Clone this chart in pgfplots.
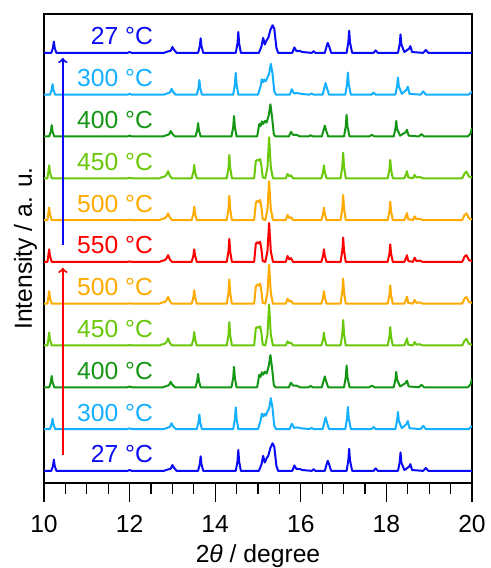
\documentclass[border=0pt]{standalone}
\usepackage{fontspec}
\setmainfont{Liberation Sans}
\usepackage{pgfplots}
\usepackage{pgfplotstable}
\pgfplotsset{compat=1.18}

\definecolor{cblue}{RGB}{10,10,245}
\definecolor{clblue}{RGB}{20,175,255}
\definecolor{cgreen}{RGB}{20,150,20}
\definecolor{clgreen}{RGB}{105,200,10}
\definecolor{corange}{RGB}{255,170,0}
\definecolor{cred}{RGB}{255,0,0}

% patterns, intensity in units of the stacking offset
\pgfplotstableread[row sep=\\]{x y\\
10 0\\ 10.17 0\\ 10.21 0.12\\ 10.23 0.27\\ 10.25 0.12\\ 10.29 0\\ 11.95 0\\ 12.0 0.02\\ 12.05 0\\
12.8 0\\ 12.88 0.03\\ 12.96 0.05\\ 13.0 0.14\\ 13.04 0.07\\ 13.1 0\\ 13.6 0\\ 13.64 0.16\\ 13.66 0.35\\ 13.68 0.16\\ 13.72 0\\
14.48 0\\ 14.52 0.22\\ 14.54 0.5\\ 14.56 0.22\\ 14.6 0\\ 15.02 0\\ 15.08 0.15\\ 15.12 0.36\\ 15.16 0.2\\ 15.2 0.3\\
15.24 0.36\\ 15.29 0.55\\ 15.34 0.66\\ 15.38 0.58\\ 15.43 0.12\\ 15.47 0\\ 15.8 0\\ 15.85 0.13\\ 15.9 0.04\\ 15.96 0.05\\
16.04 0.02\\ 16.26 0\\ 16.3 0.04\\ 16.34 0\\ 16.56 0\\ 16.61 0.18\\ 16.63 0.24\\ 16.66 0.16\\ 16.71 0\\ 17.07 0\\
17.11 0.25\\ 17.13 0.53\\ 17.15 0.25\\ 17.2 0\\ 17.7 0\\ 17.75 0.06\\ 17.8 0\\ 18.27 0\\ 18.31 0.2\\ 18.33 0.44\\
18.35 0.2\\ 18.42 0.02\\ 18.53 0.1\\ 18.56 0.16\\ 18.6 0.02\\ 18.86 0\\ 18.92 0.07\\ 18.98 0\\ 20 0\\
}\tA

\pgfplotstableread[row sep=\\]{x y\\
10 0\\ 10.14 0\\ 10.18 0.12\\ 10.2 0.25\\ 10.22 0.12\\ 10.26 0\\ 11.95 0\\ 12.0 0.02\\ 12.05 0\\
12.8 0\\ 12.88 0.03\\ 12.94 0.05\\ 12.98 0.14\\ 13.02 0.06\\ 13.08 0\\ 13.57 0\\ 13.61 0.16\\ 13.63 0.35\\ 13.65 0.16\\ 13.69 0\\
14.42 0\\ 14.46 0.24\\ 14.48 0.52\\ 14.5 0.24\\ 14.54 0\\ 15.0 0\\ 15.06 0.2\\ 15.09 0.37\\ 15.12 0.3\\ 15.15 0.36\\
15.18 0.32\\ 15.22 0.41\\ 15.26 0.5\\ 15.3 0.74\\ 15.34 0.5\\ 15.38 0.08\\ 15.42 0\\ 15.74 0\\ 15.79 0.13\\ 15.84 0.03\\
15.92 0.04\\ 16.0 0.02\\ 16.2 0\\ 16.25 0.03\\ 16.3 0\\ 16.51 0\\ 16.56 0.2\\ 16.58 0.28\\ 16.61 0.16\\ 16.66 0\\
17.04 0\\ 17.08 0.25\\ 17.1 0.53\\ 17.12 0.25\\ 17.17 0\\ 17.65 0\\ 17.7 0.05\\ 17.75 0\\ 18.21 0\\ 18.25 0.2\\
18.27 0.41\\ 18.29 0.2\\ 18.36 0.02\\ 18.47 0.12\\ 18.5 0.19\\ 18.54 0.02\\ 18.8 0\\ 18.86 0.08\\ 18.92 0\\ 19.92 0\\ 20 0.07\\
}\tB

\pgfplotstableread[row sep=\\]{x y\\
10 0\\ 10.12 0\\ 10.16 0.12\\ 10.18 0.27\\ 10.2 0.12\\ 10.24 0\\ 11.95 0\\ 12.0 0.02\\ 12.05 0\\
12.78 0\\ 12.86 0.03\\ 12.92 0.05\\ 12.96 0.13\\ 13.0 0.06\\ 13.06 0\\ 13.54 0\\ 13.58 0.15\\ 13.6 0.32\\ 13.62 0.15\\ 13.66 0\\
14.38 0\\ 14.42 0.22\\ 14.44 0.49\\ 14.46 0.22\\ 14.5 0\\ 14.98 0\\ 15.03 0.3\\ 15.06 0.25\\ 15.09 0.36\\ 15.12 0.3\\
15.16 0.37\\ 15.2 0.33\\ 15.25 0.5\\ 15.29 0.77\\ 15.33 0.45\\ 15.37 0.05\\ 15.41 0\\ 15.72 0\\ 15.77 0.11\\ 15.82 0.04\\
15.9 0.04\\ 15.98 0\\ 16.18 0\\ 16.23 0.03\\ 16.28 0\\ 16.49 0\\ 16.54 0.18\\ 16.56 0.26\\ 16.59 0.15\\ 16.64 0\\
17.01 0\\ 17.05 0.24\\ 17.07 0.52\\ 17.09 0.24\\ 17.14 0\\ 17.6 0\\ 17.66 0.04\\ 17.72 0\\ 18.17 0\\ 18.21 0.18\\
18.23 0.37\\ 18.25 0.18\\ 18.32 0.02\\ 18.45 0.1\\ 18.48 0.16\\ 18.52 0.02\\ 18.76 0\\ 18.82 0.06\\ 18.88 0\\
19.9 0\\ 19.96 0.06\\ 20 0.2\\
}\tC

\pgfplotstableread[row sep=\\]{x y\\
10 0\\ 10.08 0\\ 10.1 0.14\\ 10.12 0.31\\ 10.14 0.14\\ 10.18 0\\ 11.95 0\\ 12.0 0.01\\ 12.05 0\\
12.7 0\\ 12.74 0.02\\ 12.82 0.04\\ 12.86 0.08\\ 12.9 0.17\\ 12.94 0.06\\ 12.99 0\\ 13.45 0\\ 13.49 0.15\\ 13.51 0.32\\ 13.53 0.15\\ 13.57 0\\
14.27 0\\ 14.31 0.25\\ 14.33 0.56\\ 14.35 0.25\\ 14.39 0\\ 14.91 0\\ 14.95 0.42\\ 14.99 0.44\\ 15.02 0.42\\ 15.05 0.46\\
15.08 0.3\\ 15.11 0.02\\ 15.17 0\\ 15.22 0.25\\ 15.26 0.98\\ 15.3 0.25\\ 15.35 0\\ 15.65 0\\ 15.69 0.1\\ 15.73 0.05\\
15.77 0.07\\ 15.82 0\\ 16.48 0\\ 16.52 0.15\\ 16.54 0.31\\ 16.56 0.15\\ 16.6 0\\ 16.93 0\\ 16.97 0.28\\ 16.99 0.61\\
17.01 0.28\\ 17.05 0\\ 18.03 0\\ 18.07 0.2\\ 18.09 0.44\\ 18.11 0.2\\ 18.15 0\\ 18.42 0\\ 18.46 0.1\\ 18.48 0.17\\
18.51 0.02\\ 18.62 0\\ 18.66 0.08\\ 18.7 0.02\\ 18.78 0.03\\ 18.85 0\\ 19.77 0\\ 19.83 0.12\\ 19.87 0.16\\ 19.93 0.04\\ 20 0.02\\
}\tD

\pgfplotstableread[row sep=\\]{x y\\
10 0\\ 10.08 0\\ 10.1 0.14\\ 10.12 0.3\\ 10.14 0.14\\ 10.18 0\\ 11.95 0\\ 12.0 0.01\\ 12.05 0\\
12.7 0\\ 12.74 0.02\\ 12.82 0.04\\ 12.86 0.08\\ 12.9 0.16\\ 12.94 0.06\\ 12.99 0\\ 13.45 0\\ 13.49 0.15\\ 13.51 0.32\\ 13.53 0.15\\ 13.57 0\\
14.27 0\\ 14.31 0.26\\ 14.33 0.58\\ 14.35 0.26\\ 14.39 0\\ 14.91 0\\ 14.95 0.42\\ 14.99 0.46\\ 15.02 0.43\\ 15.05 0.48\\
15.08 0.3\\ 15.11 0.02\\ 15.17 0\\ 15.22 0.25\\ 15.26 0.93\\ 15.3 0.25\\ 15.35 0\\ 15.65 0\\ 15.69 0.12\\ 15.73 0.05\\
15.77 0.07\\ 15.82 0\\ 16.48 0\\ 16.52 0.15\\ 16.54 0.3\\ 16.56 0.15\\ 16.6 0\\ 16.93 0\\ 16.97 0.28\\ 16.99 0.6\\
17.01 0.28\\ 17.05 0\\ 18.03 0\\ 18.07 0.2\\ 18.09 0.44\\ 18.11 0.2\\ 18.15 0\\ 18.42 0\\ 18.46 0.1\\ 18.48 0.17\\
18.51 0.02\\ 18.62 0\\ 18.66 0.09\\ 18.7 0.02\\ 18.78 0.03\\ 18.85 0\\ 19.77 0\\ 19.83 0.13\\ 19.87 0.16\\ 19.93 0.04\\ 20 0.02\\
}\tE

\pgfplotstableread[row sep=\\]{x y\\
10 0\\ 10.08 0\\ 10.1 0.14\\ 10.12 0.3\\ 10.14 0.14\\ 10.18 0\\ 11.95 0\\ 12.0 0.01\\ 12.05 0\\
12.7 0\\ 12.74 0.02\\ 12.82 0.04\\ 12.86 0.08\\ 12.9 0.16\\ 12.94 0.06\\ 12.99 0\\ 13.45 0\\ 13.49 0.15\\ 13.51 0.3\\ 13.53 0.15\\ 13.57 0\\
14.27 0\\ 14.31 0.25\\ 14.33 0.55\\ 14.35 0.25\\ 14.39 0\\ 14.91 0\\ 14.95 0.44\\ 14.99 0.47\\ 15.02 0.44\\ 15.05 0.48\\
15.08 0.3\\ 15.11 0.02\\ 15.17 0\\ 15.22 0.25\\ 15.26 0.93\\ 15.3 0.25\\ 15.35 0\\ 15.65 0\\ 15.69 0.14\\ 15.73 0.06\\
15.77 0.09\\ 15.82 0\\ 16.48 0\\ 16.52 0.15\\ 16.54 0.3\\ 16.56 0.15\\ 16.6 0\\ 16.93 0\\ 16.97 0.27\\ 16.99 0.58\\
17.01 0.27\\ 17.05 0\\ 18.03 0\\ 18.07 0.19\\ 18.09 0.42\\ 18.11 0.19\\ 18.15 0\\ 18.42 0\\ 18.46 0.1\\ 18.48 0.16\\
18.51 0.02\\ 18.62 0\\ 18.66 0.1\\ 18.7 0.02\\ 18.78 0.03\\ 18.85 0\\ 19.77 0\\ 19.83 0.13\\ 19.87 0.16\\ 19.93 0.04\\ 20 0.02\\
}\tF

\begin{document}
\begin{tikzpicture}
\begin{axis}[
  name=ax,
  scale only axis,
  width=321pt, height=351.75pt,
  xmin=10, xmax=20, ymin=-0.29, ymax=10.93,
  xtick={10,12,...,20}, minor x tick num=3,
  ytick=\empty,
  xtick pos=lower, tick align=outside,
  major tick length=14pt, minor tick length=8pt,
  every tick/.style={black, line width=1pt},
  axis line style={line width=1.2pt},
  font=\fontsize{18.5}{22}\selectfont,
  /pgf/number format/assume math mode=true,
  xticklabel style={yshift=-7pt},
  xlabel={2\textit{θ} / degree},
  xlabel style={yshift=-2pt},
  ylabel={Intensity / a. u.},
  every axis y label/.style={at={(rel axis cs:0,0.5)}, rotate=90, anchor=south, inner sep=5pt},
  every axis plot/.append style={line width=1.5pt, line join=round},
]
\addplot[cblue]   table[x=x, y expr=\thisrow{y}+0]  {\tA};
\addplot[clblue]  table[x=x, y expr=\thisrow{y}+1]  {\tB};
\addplot[cgreen]  table[x=x, y expr=\thisrow{y}+2]  {\tC};
\addplot[clgreen] table[x=x, y expr=\thisrow{y}+3]  {\tD};
\addplot[corange] table[x=x, y expr=\thisrow{y}+4]  {\tE};
\addplot[cred]    table[x=x, y expr=\thisrow{y}+5]  {\tF};
\addplot[corange] table[x=x, y expr=\thisrow{y}+6]  {\tE};
\addplot[clgreen] table[x=x, y expr=\thisrow{y}+7]  {\tD};
\addplot[cgreen]  table[x=x, y expr=\thisrow{y}+8]  {\tC};
\addplot[clblue]  table[x=x, y expr=\thisrow{y}+9]  {\tB};
\addplot[cblue]   table[x=x, y expr=\thisrow{y}+10] {\tA};

\draw[draw=cred, line width=1.5pt, -to] (axis cs:10.44,0.38) -- (axis cs:10.44,4.86);
\draw[draw=cblue, line width=1.5pt, -to] (axis cs:10.44,5.4) -- (axis cs:10.44,9.88);

\begin{scope}[every node/.style={anchor=base east, inner sep=0pt}]
\node[text=cblue]   at (axis cs:12.55,0.19)  {27 °C};
\node[text=clblue]  at (axis cs:12.55,1.19)  {300 °C};
\node[text=cgreen]  at (axis cs:12.55,2.19)  {400 °C};
\node[text=clgreen] at (axis cs:12.55,3.19)  {450 °C};
\node[text=corange] at (axis cs:12.55,4.19)  {500 °C};
\node[text=cred]    at (axis cs:12.55,5.19)  {550 °C};
\node[text=corange] at (axis cs:12.55,6.19)  {500 °C};
\node[text=clgreen] at (axis cs:12.55,7.19)  {450 °C};
\node[text=cgreen]  at (axis cs:12.55,8.19)  {400 °C};
\node[text=clblue]  at (axis cs:12.55,9.19)  {300 °C};
\node[text=cblue]   at (axis cs:12.55,10.19) {27 °C};
\end{scope}
\end{axis}
\pgfresetboundingbox
\path (ax.south west) ++(-33pt,-63.75pt);
\path (ax.north east) ++(14.25pt,10.5pt);
\end{tikzpicture}
\end{document}
